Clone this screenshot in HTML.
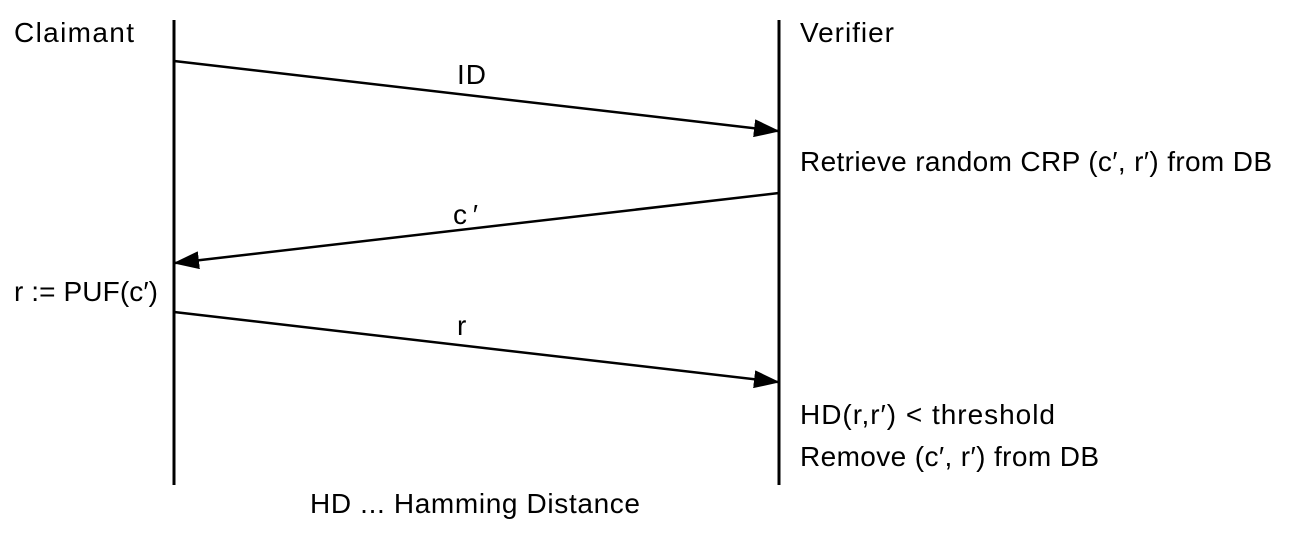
<!DOCTYPE html>
<html><head><meta charset="utf-8"><style>
html,body{margin:0;padding:0;background:#fff}
svg text{font-family:"Liberation Sans",sans-serif;font-size:28px;fill:#000}
</style></head><body>
<svg width="1291" height="539" viewBox="0 0 1291 539">
<defs><marker id="ah" markerWidth="26" markerHeight="18" refX="24" refY="9" orient="auto" markerUnits="userSpaceOnUse"><path d="M0,0 L26,9 L0,18 Z" fill="#000"/></marker></defs>
<line x1="174" y1="20" x2="174" y2="485" stroke="#000" stroke-width="3"/>
<line x1="779" y1="20" x2="779" y2="485" stroke="#000" stroke-width="3"/>
<text x="14" y="42" textLength="120">Claimant</text>
<text x="800" y="42" textLength="94">Verifier</text>
<line x1="174" y1="61" x2="778" y2="131" stroke="#000" stroke-width="2.5" marker-end="url(#ah)"/>
<text x="457" y="84" textLength="29">ID</text>
<text x="800" y="171" textLength="472">Retrieve random CRP (c′, r′) from DB</text>
<line x1="779" y1="193" x2="175" y2="263" stroke="#000" stroke-width="2.5" marker-end="url(#ah)"/>
<text x="453" y="224" textLength="25">c′</text>
<text x="14" y="301" textLength="144">r := PUF(c′)</text>
<line x1="174" y1="312" x2="778" y2="382" stroke="#000" stroke-width="2.5" marker-end="url(#ah)"/>
<text x="457" y="335" textLength="11">r</text>
<text x="800" y="424" textLength="255">HD(r,r′) &lt; threshold</text>
<text x="800" y="466" textLength="299">Remove (c′, r′) from DB</text>
<text x="310" y="513" textLength="330">HD ... Hamming Distance</text>
</svg>
</body></html>
